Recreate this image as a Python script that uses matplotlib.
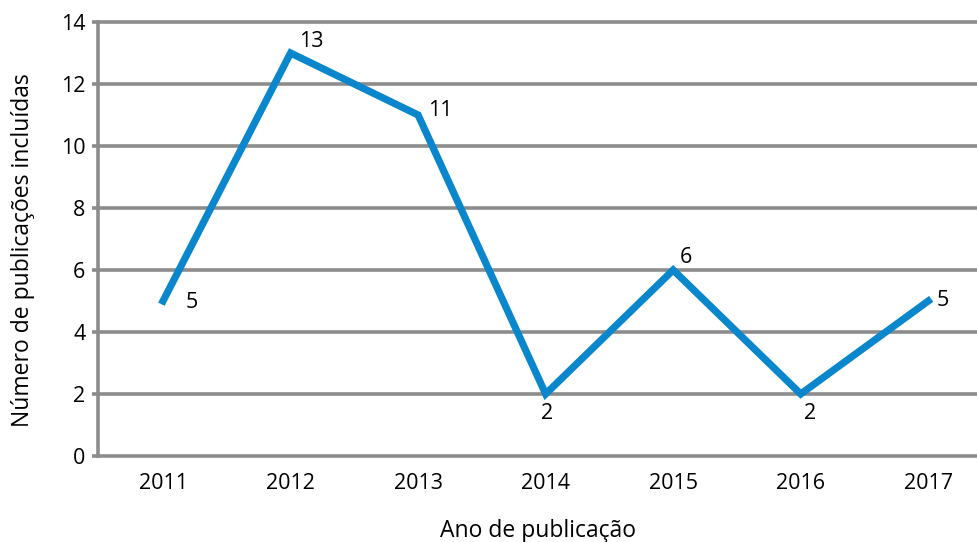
import matplotlib.pyplot as plt

plt.rcParams['font.family'] = ['Open Sans', 'DejaVu Sans']

anos = ['2011', '2012', '2013', '2014', '2015', '2016', '2017']
publicacoes = [5, 13, 11, 2, 6, 2, 5]
# label offsets (points) per point
offsets = [(16, -1), (6, 8), (7, 3), (1, -14), (5, 9), (7, -14), (6, 0)]

fig = plt.figure(figsize=(9.78, 5.42), dpi=100)
ax = fig.add_axes([0.1002, 0.1587, 0.8998, 0.8007])

x = list(range(len(anos)))
grid_color = '#8c8c8c'
for yv in range(0, 15, 2):
    ax.axhline(yv, color=grid_color, lw=2.6, zorder=1, clip_on=False)

ax.plot(x, publicacoes, color='#0a87cc', lw=5.2, zorder=3, solid_joinstyle='miter')

for xi, yi, (dx, dy) in zip(x, publicacoes, offsets):
    ax.annotate(str(yi), (xi, yi), xytext=(dx, dy), textcoords='offset points',
                fontsize=15.5, ha='left' if abs(dy) < 12 else 'center', va='center')

ax.set_xlim(-0.51, 6.39)
ax.set_ylim(0, 14)
ax.set_xticks(x)
ax.set_xticklabels(anos)
ax.set_yticks(range(0, 15, 2))

for s in ['top', 'right', 'bottom']:
    ax.spines[s].set_visible(False)
ax.spines['left'].set_color(grid_color)
ax.spines['left'].set_linewidth(2.6)

ax.tick_params(axis='x', length=0, pad=12, labelsize=15.5)
ax.tick_params(axis='y', length=4, width=2.6, color=grid_color, pad=5, labelsize=15.5)

ax.set_xlabel('Ano de publicação', fontsize=16.5, labelpad=18)
ax.set_ylabel('Número de publicações incluídas', fontsize=16.5)
ax.yaxis.set_label_coords(-0.072, 0.475)

fig.savefig('out.png', dpi=100)
